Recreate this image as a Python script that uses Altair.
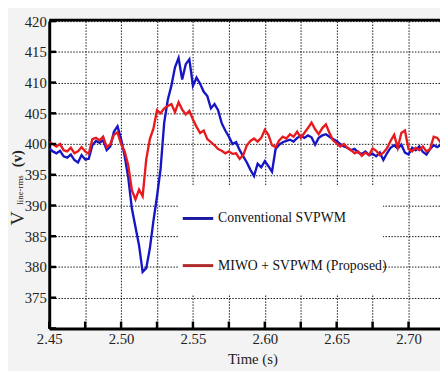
import altair as alt
import pandas as pd

# ---- data ----
t_start = 2.45
t_step = 0.0025
n_pts = 110
times = [round(t_start + i * t_step, 4) for i in range(n_pts)]

conventional = [
    399.3, 398.8, 398.5, 398.9, 398.0, 397.8, 398.3, 397.4, 397.0, 398.2,
    397.5, 397.6, 399.8, 400.5, 400.2, 400.6, 399.0, 399.6, 402.0, 402.9,
    400.8, 398.0, 394.5, 389.5, 386.5, 383.5, 379.2, 379.8, 383.0, 387.5,
    391.5, 396.0, 403.5, 407.2, 409.5, 412.5, 414.0, 410.5, 413.0, 413.8,
    409.5, 410.8, 409.8, 408.5, 407.8, 405.8, 406.5, 405.5, 403.4, 402.2,
    401.2, 400.0, 400.3, 399.0, 398.0, 397.0, 395.8, 394.8, 396.8, 396.2,
    397.2, 396.4, 395.5, 399.2, 399.9, 400.3, 400.5, 400.7, 400.4, 401.0,
    401.3, 401.0, 401.4, 401.1, 399.9, 401.0, 401.4, 401.6, 401.2, 400.8,
    400.5, 400.0, 399.6, 399.4, 399.0, 399.2, 398.6, 398.4, 398.8, 398.2,
    398.4, 398.0, 398.6, 397.4, 398.5, 399.4, 399.8, 399.3, 399.9, 398.6,
    398.3, 399.4, 399.0, 399.6, 398.7, 398.3, 399.2, 399.8, 399.5, 399.9,
]
proposed = [
    400.3, 400.0, 399.6, 400.0, 399.0, 398.8, 399.4, 398.5, 398.8, 399.5,
    398.8, 398.4, 400.8, 401.0, 400.6, 401.2, 399.5, 400.0, 401.5, 401.9,
    400.0, 398.8, 396.5, 392.5, 391.0, 392.6, 391.5, 397.5, 400.8, 402.5,
    405.5, 405.0, 405.8, 406.2, 406.5, 405.2, 406.8, 405.6, 404.8, 405.4,
    404.0, 402.8, 401.8, 402.2, 400.8, 400.3, 399.8, 399.2, 398.9, 398.5,
    398.8, 398.4, 398.5, 397.6, 398.2, 399.8, 400.5, 400.9, 400.4, 401.0,
    402.3, 401.5, 399.8, 399.5, 400.6, 401.2, 400.9, 401.6, 401.2, 402.0,
    401.0, 401.8, 402.6, 403.5, 402.4, 401.6, 402.6, 403.2, 401.8, 400.6,
    400.1, 399.6, 400.0, 399.4, 399.0, 398.5, 398.8, 398.1, 398.6, 398.2,
    399.3, 398.9, 398.2, 398.6, 399.3, 400.5, 401.5, 399.4, 401.8, 402.2,
    399.2, 398.8, 399.4, 399.0, 399.6, 398.8, 399.2, 401.2, 401.0, 400.2,
]
series_names = ["Conventional SVPWM", "MIWO + SVPWM (Proposed)"]
series_colors = ["#1616c4", "#e81a1e"]
legend_line_colors = ["#1a1aa0", "#b02a2c"]

x_ticks = [2.45, 2.475, 2.5, 2.525, 2.55, 2.575, 2.6, 2.625, 2.65, 2.675, 2.7]
y_ticks = [370, 375, 380, 385, 390, 395, 400, 405, 410, 415, 420]
x_domain = [2.45, 2.7219]
y_domain = [370, 420]

df = pd.DataFrame({
    "time": times * 2,
    "voltage": conventional + proposed,
    "series": [series_names[0]] * n_pts + [series_names[1]] * n_pts,
})
xt_df = pd.DataFrame({"time": x_ticks})
yt_df = pd.DataFrame({"voltage": y_ticks})
one = pd.DataFrame({"k": [0]})

W, H = 398, 313
SERIF = "'Liberation Serif', 'Times New Roman', 'DejaVu Serif', serif"
TXT = "#222222"

xscale = alt.Scale(domain=x_domain, nice=False, zero=False)
yscale = alt.Scale(domain=y_domain, nice=False, zero=False)

x_axis = alt.Axis(
    values=x_ticks,
    labelExpr="abs(datum.value*20 - round(datum.value*20)) < 0.001 ? format(datum.value, '.2f') : ''",
    grid=True, gridDash=[1.5, 1.5], gridColor="#111111", gridWidth=1,
    domainColor="black", domainWidth=3, ticks=False,
    labelFont=SERIF, labelFontSize=15, labelColor=TXT, labelPadding=3,
    labelFlush=False, labelOverlap=False, labelBound=False,
    title="Time (s)", titleFont=SERIF, titleFontSize=15, titleFontWeight="normal",
    titleColor=TXT, titleX=207, titleY=36, titleAlign="center", titleBaseline="alphabetic",
)
y_axis = alt.Axis(
    values=y_ticks,
    labelExpr="datum.value == 370 ? '' : datum.label",
    grid=True, gridDash=[1.5, 1.5], gridColor="#111111", gridWidth=1,
    domainColor="black", domainWidth=3, ticks=False,
    labelFont=SERIF, labelFontSize=15, labelColor=TXT, labelPadding=3,
    labelFlush=False, labelOverlap=False, labelBound=False,
    title=None,
)

lines = alt.Chart(df).mark_line(strokeWidth=2.4, clip=True).encode(
    x=alt.X("time:Q", scale=xscale, axis=x_axis),
    y=alt.Y("voltage:Q", scale=yscale, axis=y_axis),
    color=alt.Color("series:N", scale=alt.Scale(domain=series_names, range=series_colors), legend=None),
    order=alt.Order("time:Q"),
)

x_inner_ticks = alt.Chart(xt_df).mark_rule(color="black", strokeWidth=2.5).encode(
    x=alt.X("time:Q", scale=xscale, axis=x_axis), y=alt.value(H), y2=alt.value(H - 7)
)
y_inner_ticks = alt.Chart(yt_df).mark_rule(color="black", strokeWidth=2.5).encode(
    y=alt.Y("voltage:Q", scale=yscale, axis=y_axis), x=alt.value(0), x2=alt.value(7)
)
top_border = alt.Chart(one).mark_rule(color="black", strokeWidth=3).encode(
    x=alt.value(0), x2=alt.value(W), y=alt.value(-1)
)

legend_box = alt.Chart(one).mark_rect(fill="white").encode(
    x=alt.value(132), x2=alt.value(340), y=alt.value(167), y2=alt.value(278)
)
leg_layers = []
for name, col, ly in zip(series_names, legend_line_colors, [201, 249]):
    leg_layers.append(alt.Chart(one).mark_rule(color=col, strokeWidth=3).encode(
        x=alt.value(136), x2=alt.value(167), y=alt.value(ly)))
    leg_layers.append(alt.Chart(one).mark_text(
        text=name, font=SERIF, fontSize=14, color="#111111", align="left", baseline="middle"
    ).encode(x=alt.value(172), y=alt.value(ly)))

ytitle_v = alt.Chart(one).mark_text(
    text="V", font=SERIF, fontSize=20, color=TXT, angle=270, align="center", baseline="middle"
).encode(x=alt.value(-32), y=alt.value(201))
ytitle_sub = alt.Chart(one).mark_text(
    text="line-rms", font=SERIF, fontSize=9, color=TXT, angle=270, align="center", baseline="middle"
).encode(x=alt.value(-30), y=alt.value(172))
ytitle_unit = alt.Chart(one).mark_text(
    text="(v)", font=SERIF, fontSize=15, fontWeight="bold", color=TXT, angle=270,
    align="center", baseline="middle"
).encode(x=alt.value(-33), y=alt.value(140))

chart = alt.layer(
    lines, legend_box, *leg_layers, x_inner_ticks, y_inner_ticks, top_border,
    ytitle_v, ytitle_sub, ytitle_unit,
).properties(
    width=W, height=H,
    padding={"left": 42, "top": 10, "right": 0, "bottom": 40},
    autosize=alt.AutoSizeParams(type="none"),
    background="#f3f3f3",
).configure_view(stroke=None, fill="white")

chart.save("out.html", embed_options={"renderer": "svg", "actions": False})
